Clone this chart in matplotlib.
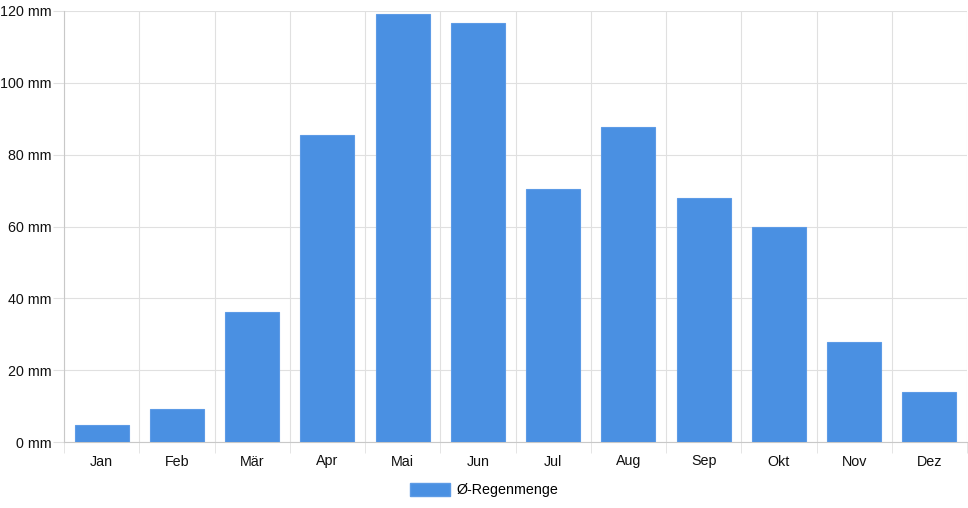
import numpy as np
import matplotlib.pyplot as plt
from matplotlib.patches import Patch

months = ['Jan', 'Feb', 'Mär', 'Apr', 'Mai', 'Jun', 'Jul', 'Aug', 'Sep', 'Okt', 'Nov', 'Dez']
rain_mm = [4.8, 9.3, 36.3, 85.5, 119.2, 116.7, 70.5, 87.6, 68.0, 60.0, 27.8, 14.0]
yticks = [0, 20, 40, 60, 80, 100, 120]

plt.rcParams['font.family'] = ['Liberation Sans', 'DejaVu Sans']

W, H = 968, 508
fig = plt.figure(figsize=(W / 100, H / 100), dpi=100)
ax = fig.add_axes([64 / W, 1 - 442 / H, (967 - 64) / W, (442 - 11) / H])

x = np.arange(len(months))
ax.bar(x, rain_mm, width=0.72, color='#4a90e2', edgecolor='#5d9be6', linewidth=0.8, zorder=3)

ax.set_xlim(-0.5, len(months) - 0.5)
ax.set_ylim(0, 120)
ax.set_yticks(yticks)
ax.set_yticklabels(['{} mm'.format(v) for v in yticks])
ax.set_xticks(x)
ax.set_xticklabels(months)
ax.set_xticks(np.arange(-0.5, len(months), 1), minor=True)

ax.grid(axis='y', color='#e0e0e0', linewidth=0.8, zorder=0)
ax.grid(axis='x', which='minor', color='#e0e0e0', linewidth=0.8, zorder=0)
ax.grid(axis='x', which='major', visible=False)

for s in ['top', 'right']:
    ax.spines[s].set_visible(False)
ax.spines['left'].set_color('#c8c8c8')
ax.spines['bottom'].set_color('#c8c8c8')
ax.spines['left'].set_linewidth(0.8)
ax.spines['bottom'].set_linewidth(0.8)

ax.tick_params(axis='y', length=8, color='#e0e0e0', labelsize=10.3, labelcolor='#111111', pad=1)
ax.tick_params(axis='x', which='major', length=0, labelsize=10.3, labelcolor='#111111', pad=9)
ax.tick_params(axis='x', which='minor', length=8, color='#e0e0e0')

handle = Patch(facecolor='#4a90e2', edgecolor='#5d9be6', label='Ø-Regenmenge')
fig.legend(handles=[handle], loc='center', bbox_to_anchor=(484 / W, 1 - 490 / H),
           frameon=False, fontsize=10.3, handlelength=2.8, handleheight=1.0,
           handletextpad=0.45)

fig.savefig('out.png', dpi=100)
